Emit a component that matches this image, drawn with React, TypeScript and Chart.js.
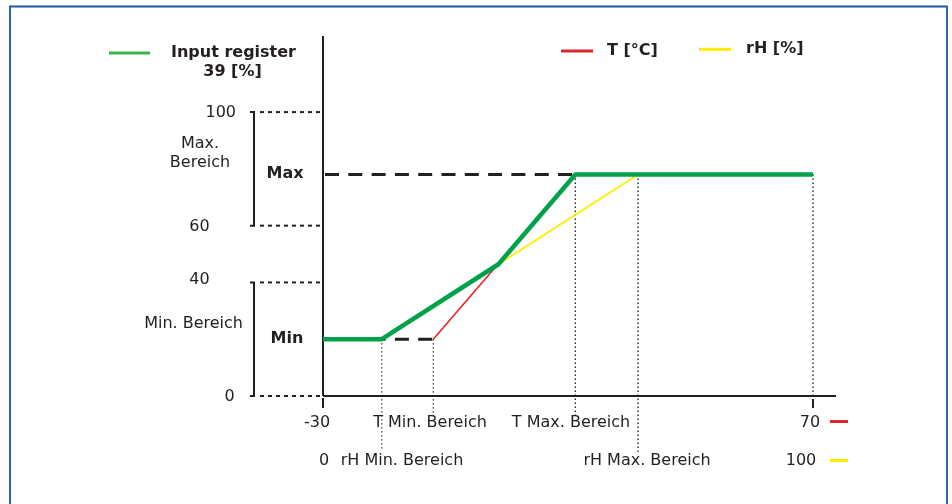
import { useEffect, useRef } from 'react';
import { Chart, registerables } from 'chart.js';

Chart.register(...registerables);

// ---- data ----
const T_LABEL_ENDS = [-30, 70]; // T [°C] axis labelled ends
const RH_LABEL_ENDS = [0, 100]; // rH [%] axis labelled ends
const T_AXIS_END = 74.7; // x axis line extends past 70
const Y_TICKS = [0, 40, 60, 100];
const Y_AXIS_END = 126.8;
const OUT_LEVELS = [20, 78]; // Min, Max output level
const T_BEREICH = [-7.5, 21.5]; // T Min. / Max. Bereich
const RH_BEREICH = [12, 64.3]; // rH Min. / Max. Bereich
const GREEN_T = [-30, -18, 5.8, 21.5, 70];
const GREEN_Y = [20, 20, 46.4, 78, 78];

const INK = '#231f20';
const FONT = '"DejaVu Sans", Verdana, sans-serif';

const guides = {
  id: 'guides',
  beforeDatasetsDraw(chart: any) {
    const { ctx } = chart;
    const { x, xRH, y } = chart.scales;
    const X = (v: number) => x.getPixelForValue(v);
    const XR = (v: number) => xRH.getPixelForValue(v);
    const Y = (v: number) => y.getPixelForValue(v);
    const line = (x1: number, y1: number, x2: number, y2: number) => {
      ctx.beginPath();
      ctx.moveTo(x1, y1);
      ctx.lineTo(x2, y2);
      ctx.stroke();
    };
    ctx.save();
    // frame
    ctx.strokeStyle = '#17589e';
    ctx.lineWidth = 1.8;
    ctx.beginPath();
    ctx.moveTo(10, 504);
    ctx.lineTo(10, 6.5);
    ctx.lineTo(947, 6.5);
    ctx.lineTo(947, 504);
    ctx.stroke();

    const x0 = X(T_LABEL_ENDS[0]);
    // horizontal dotted guides
    ctx.strokeStyle = INK;
    ctx.lineWidth = 2;
    ctx.setLineDash([4, 4]);
    Y_TICKS.forEach((v) => line(x0 - 63, Y(v), x0, Y(v)));
    // vertical dotted guides
    ctx.lineWidth = 1.3;
    ctx.setLineDash([1.4, 2.6]);
    line(XR(RH_BEREICH[0]), Y(OUT_LEVELS[0]), XR(RH_BEREICH[0]), 451);
    line(X(T_BEREICH[0]), Y(OUT_LEVELS[0]), X(T_BEREICH[0]), 416);
    line(X(T_BEREICH[1]), Y(OUT_LEVELS[1]), X(T_BEREICH[1]), 416);
    line(XR(RH_BEREICH[1]), Y(OUT_LEVELS[1]), XR(RH_BEREICH[1]), 452);
    line(X(T_LABEL_ENDS[1]), Y(OUT_LEVELS[1]), X(T_LABEL_ENDS[1]), Y(0));
    ctx.setLineDash([]);
    // brackets
    ctx.lineWidth = 2;
    const bx = x0 - 69;
    const bracket = (a: number, b: number) => {
      ctx.beginPath();
      ctx.moveTo(bx - 4, Y(a));
      ctx.lineTo(bx, Y(a));
      ctx.lineTo(bx, Y(b));
      ctx.lineTo(bx - 4, Y(b));
      ctx.stroke();
    };
    bracket(Y_TICKS[3], Y_TICKS[2]);
    bracket(Y_TICKS[1], Y_TICKS[0]);
    // axes
    ctx.lineWidth = 2;
    line(x0, Y(0), x0, Y(Y_AXIS_END));
    line(x0, Y(0), X(T_AXIS_END), Y(0));
    line(x0, Y(0) + 2, x0, Y(0) + 12);
    line(X(T_LABEL_ENDS[1]), Y(0) + 3, X(T_LABEL_ENDS[1]), Y(0) + 12);
    ctx.restore();
  },
  afterDraw(chart: any) {
    const { ctx } = chart;
    const { x, xRH, y } = chart.scales;
    const X = (v: number) => x.getPixelForValue(v);
    const Y = (v: number) => y.getPixelForValue(v);
    ctx.save();
    ctx.fillStyle = INK;
    ctx.textBaseline = 'middle';
    const txt = (s: string, px: number, py: number, align: CanvasTextAlign = 'center', bold = false) => {
      ctx.font = `${bold ? 'bold ' : ''}16px ${FONT}`;
      ctx.textAlign = align;
      ctx.fillText(s, px, py);
    };
    const seg = (c: string, x1: number, x2: number, py: number) => {
      ctx.strokeStyle = c;
      ctx.lineWidth = 3;
      ctx.beginPath();
      ctx.moveTo(x1, py);
      ctx.lineTo(x2, py);
      ctx.stroke();
    };
    // legend
    seg('#3cb44a', 109, 150, 53);
    txt('Input register', 233.5, 52.5, 'center', true);
    txt('39 [%]', 232.5, 71.5, 'center', true);
    seg('#d7262c', 561, 593, 51);
    txt('T [°C]', 607, 50.5, 'left', true);
    seg('#ffec00', 699, 731, 49.3);
    txt('rH [%]', 746, 48.5, 'left', true);
    // y side
    txt(String(Y_TICKS[3]), 236, Y(Y_TICKS[3]) + 0.5, 'right');
    txt(String(Y_TICKS[2]), 199.5, Y(Y_TICKS[2]) + 1, 'center');
    txt(String(Y_TICKS[1]), 199.5, Y(Y_TICKS[1]) - 3, 'center');
    txt(String(Y_TICKS[0]), 229.5, Y(Y_TICKS[0]) + 1, 'center');
    txt('Max.', 200, 144, 'center');
    txt('Bereich', 200, 162.5, 'center');
    txt('Max', 285, Y(OUT_LEVELS[1]) - 1, 'center', true);
    txt('Min. Bereich', 243, 324, 'right');
    txt('Min', 287, Y(OUT_LEVELS[0]) - 0.5, 'center', true);
    // x side, T row
    const r1 = 423;
    const r2 = 461;
    txt(String(T_LABEL_ENDS[0]), X(T_LABEL_ENDS[0]) - 6, r1, 'center');
    txt('T Min. Bereich', 430, r1, 'center');
    txt('T Max. Bereich', 571, r1, 'center');
    txt(String(T_LABEL_ENDS[1]), X(T_LABEL_ENDS[1]) - 3, r1, 'center');
    seg('#d7262c', 830, 848, 421.5);
    // rH row
    txt(String(RH_LABEL_ENDS[0]), xRH.getPixelForValue(RH_LABEL_ENDS[0]) + 1, r2, 'center');
    txt('rH Min. Bereich', 402, r2, 'center');
    txt('rH Max. Bereich', 647, r2, 'center');
    txt(String(RH_LABEL_ENDS[1]), xRH.getPixelForValue(RH_LABEL_ENDS[1]) - 12, r2, 'center');
    seg('#ffec00', 830, 848, 460.5);
    ctx.restore();
  },
};

export default function App() {
  const ref = useRef<HTMLCanvasElement>(null);
  useEffect(() => {
    const common = { showLine: true, pointRadius: 0, tension: 0, clip: false as any, borderJoinStyle: 'round' as const };
    const chart = new Chart(ref.current!, {
      type: 'scatter',
      data: {
        datasets: [
          {
            ...common,
            label: 'Input register 39 [%]',
            data: GREEN_T.map((t, i) => ({ x: t, y: GREEN_Y[i] })),
            borderColor: '#00a14b',
            borderWidth: 4.5,
            order: 0,
          },
          {
            ...common,
            label: 'T [°C]',
            data: [
              { x: T_BEREICH[0], y: OUT_LEVELS[0] },
              { x: T_BEREICH[1], y: OUT_LEVELS[1] },
            ],
            borderColor: '#e8262b',
            borderWidth: 1.7,
            order: 1,
          },
          {
            ...common,
            label: 'rH [%]',
            xAxisID: 'xRH',
            data: [
              { x: RH_BEREICH[0], y: OUT_LEVELS[0] },
              { x: RH_BEREICH[1], y: OUT_LEVELS[1] },
            ],
            borderColor: '#ffee00',
            borderWidth: 1.9,
            order: 2,
          },
          {
            ...common,
            label: 'Max',
            data: [
              { x: T_LABEL_ENDS[0], y: OUT_LEVELS[1] },
              { x: T_BEREICH[1], y: OUT_LEVELS[1] },
            ],
            borderColor: INK,
            borderWidth: 3,
            borderDash: [14, 9.3],
            borderDashOffset: -2,
            borderCapStyle: 'butt',
            order: 3,
          },
          {
            ...common,
            label: 'Min',
            data: [
              { x: T_LABEL_ENDS[0], y: OUT_LEVELS[0] },
              { x: T_BEREICH[0], y: OUT_LEVELS[0] },
            ],
            borderColor: INK,
            borderWidth: 3,
            borderDash: [14, 9.3],
            borderDashOffset: -2,
            borderCapStyle: 'butt',
            order: 3,
          },
        ],
      },
      options: {
        animation: false,
        responsive: true,
        maintainAspectRatio: false,
        layout: { padding: { left: 323, right: 116, top: 36, bottom: 108 } },
        plugins: { legend: { display: false }, tooltip: { enabled: false } },
        scales: {
          x: { type: 'linear', min: T_LABEL_ENDS[0], max: T_AXIS_END, display: false },
          xRH: { type: 'linear', min: RH_LABEL_ENDS[0], max: RH_LABEL_ENDS[0] + (T_AXIS_END - T_LABEL_ENDS[0]), display: false },
          y: { type: 'linear', min: 0, max: Y_AXIS_END, display: false },
        },
      },
      plugins: [guides],
    });
    return () => chart.destroy();
  }, []);
  return (
    <div style={{ position: 'fixed', left: 0, top: 0, width: 952, height: 504, background: '#fff' }}>
      <canvas ref={ref} />
    </div>
  );
}
